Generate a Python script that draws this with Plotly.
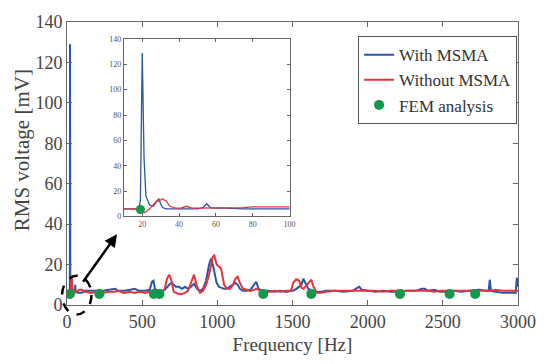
import plotly.graph_objects as go

# ---- data ----
freq_low = [0, 5, 10, 15, 18, 19, 20, 21, 22, 24, 26, 28, 29, 30, 31, 33, 35, 38, 41, 44,
            47, 50, 53, 55, 57, 60, 65, 70, 75, 80, 85, 90, 95, 100]
blue_low = [6, 6, 6, 6, 6, 12, 129, 45, 16, 9, 8, 12, 14, 10, 7, 6, 6, 6, 6, 6.5,
            6, 6, 7, 10, 7, 6.5, 6.5, 6, 6, 6, 6, 6, 6, 6]
red_low = [6, 6, 6, 6, 5, 4, 3, 3, 3.5, 6, 9, 12.5, 12, 13, 14, 12, 8, 6.5, 6.5, 8,
           6.5, 6.5, 6.5, 6.5, 6.5, 6.5, 6.5, 7, 7, 7.5, 7.5, 7.5, 7.5, 7.5]

freq_high = [120, 160, 200, 240, 280, 320, 340, 380, 420, 450, 480, 520, 550, 565, 575, 585,
             600, 630, 650, 665, 680, 695, 710, 725, 745, 765, 785, 805, 825, 845, 865, 885,
             905, 925, 945, 958, 970, 980, 995, 1010, 1025, 1045, 1065, 1085, 1105, 1120,
             1135, 1150, 1170, 1195, 1220, 1245, 1258, 1275, 1300, 1340, 1380, 1420, 1460,
             1490, 1505, 1525, 1545, 1560, 1572, 1585, 1605, 1625, 1640, 1660, 1690, 1720,
             1780, 1840, 1900, 1930, 1945, 1960, 2000, 2050, 2100, 2150, 2200, 2260, 2320,
             2360, 2380, 2400, 2445, 2480, 2520, 2580, 2620, 2680, 2740, 2790, 2805, 2812,
             2820, 2850, 2900, 2950, 2985, 2992, 3000]
blue_high = [7, 7, 7, 7, 7.5, 8, 7, 7, 7.5, 8, 7, 7, 7.5, 11.5, 12, 8,
             7, 7, 7.5, 9, 10, 11, 10, 9, 9, 8, 9, 8, 9, 10.5, 8, 7,
             8, 12, 20, 23, 20, 16, 11, 9, 8.5, 8, 8, 9, 10, 11,
             10, 8, 7, 7, 7.5, 10, 11.5, 8, 7, 7, 6.5, 7, 6.5,
             7, 7, 8, 9, 10, 13, 11, 8, 7.5, 6.5, 6.5, 6.5, 7,
             7, 6.5, 7, 8.5, 9, 7.5, 7, 6.5, 7, 6.5, 6.5, 7, 7,
             8, 8, 7, 7.5, 6.5, 6.5, 7, 6.5, 7, 7.5, 7, 7, 12.5,
             7, 6.5, 6, 6, 6, 13.5, 9]
red_high = [6.5, 6, 6.5, 6, 6.5, 6.5, 7, 6, 6.5, 6, 6.5, 6, 6.5, 6.5, 6, 6.5,
            6.5, 6.5, 8, 13, 15, 12, 6.5, 6, 5.5, 5.5, 6, 7, 11, 15, 9, 6,
            7, 10, 15, 20, 24, 24.5, 20, 19, 18, 10, 8, 8, 10, 13,
            14, 11, 8, 7.5, 7, 7.5, 8, 7.5, 7, 6.5, 7, 6.5, 7,
            7, 11, 12.7, 12, 8.5, 8, 9, 11, 12.5, 9, 6, 6, 6.5,
            7, 7, 7, 7, 7, 7, 7, 7, 6.5, 7, 7, 7, 7,
            7, 7, 7, 6.5, 7, 7, 7, 7, 7, 7, 7, 7, 7,
            7, 7.5, 7, 7, 7, 7, 7]

fem_freq = [19, 215, 578, 615, 1305, 1625, 2215, 2545, 2715]
fem_val = [5.5, 5.5, 5.5, 5.5, 5.5, 5.5, 5.5, 5.5, 5.5]

x_ticks = [0, 500, 1000, 1500, 2000, 2500, 3000]
y_ticks = [0, 20, 40, 60, 80, 100, 120, 140]
inset_x_ticks = [20, 40, 60, 80, 100]

freq_all = freq_low + freq_high
blue_all = blue_low + blue_high
red_all = red_low + red_high

BLUE = "#2d55a5"
RED = "#e4343c"
GREEN = "#14994a"
FONT = "'Liberation Serif', 'Times New Roman', 'DejaVu Serif', serif"

fig = go.Figure()
# main
fig.add_trace(go.Scatter(x=freq_all, y=blue_all, mode="lines", name="With MSMA",
                         line=dict(color=BLUE, width=2)))
fig.add_trace(go.Scatter(x=freq_all, y=red_all, mode="lines", name="Without MSMA",
                         line=dict(color=RED, width=2)))
fig.add_trace(go.Scatter(x=fem_freq, y=fem_val, mode="markers", name="FEM analysis",
                         marker=dict(color=GREEN, size=10)))
# inset
fig.add_trace(go.Scatter(x=freq_all, y=blue_all, mode="lines", showlegend=False,
                         line=dict(color=BLUE, width=1.3), xaxis="x2", yaxis="y2"))
fig.add_trace(go.Scatter(x=freq_all, y=red_all, mode="lines", showlegend=False,
                         line=dict(color=RED, width=1.3), xaxis="x2", yaxis="y2"))
fig.add_trace(go.Scatter(x=fem_freq, y=fem_val, mode="markers", showlegend=False,
                         marker=dict(color=GREEN, size=9), xaxis="x2", yaxis="y2",
                         cliponaxis=True))

axis_common = dict(showline=True, linecolor="#666", linewidth=1, mirror="ticks",
                   ticks="inside", tickcolor="#666", showgrid=False, zeroline=False)

fig.update_layout(
    width=548, height=364,
    margin=dict(l=67, r=21, t=18, b=46),
    paper_bgcolor="white", plot_bgcolor="white",
    font=dict(family=FONT, color="#444"),
    xaxis=dict(range=[0, 3000], tickvals=x_ticks, ticklen=5,
               tickfont=dict(family=FONT, size=18, color="#444"),
               title=dict(text="Frequency [Hz]", font=dict(family=FONT, size=19, color="#444"),
                          standoff=7),
               **axis_common),
    yaxis=dict(range=[0, 140], tickvals=y_ticks, ticklen=5,
               tickfont=dict(family=FONT, size=18, color="#444"),
               **axis_common),
    xaxis2=dict(domain=[0.126, 0.4935], anchor="y2", range=[10, 100], tickvals=inset_x_ticks,
                ticklen=3, tickfont=dict(family=FONT, size=8, color="#555"), **axis_common),
    yaxis2=dict(domain=[0.313, 0.94], anchor="x2", range=[0, 140], tickvals=y_ticks,
                ticklen=3, tickfont=dict(family=FONT, size=8, color="#555"), **axis_common),
    legend=dict(x=0.998, y=0.95, xanchor="right", yanchor="top",
                bgcolor="white", bordercolor="#555", borderwidth=1,
                font=dict(family=FONT, size=17, color="#333"),
                tracegroupgap=0, itemwidth=30),
    showlegend=True,
    shapes=[dict(type="circle", xref="paper", yref="paper",
                 x0=-0.0109, x1=0.0543, y0=-0.0333, y1=0.1033,
                 line=dict(color="black", width=2.5, dash="dash"))],
    annotations=[
        dict(xref="paper", yref="paper", x=0.1109, y=0.25, ax=-35, ay=49,
             showarrow=True, arrowhead=2, arrowsize=1, arrowwidth=2.5,
             arrowcolor="black", text=""),
        dict(xref="paper", yref="paper", x=-0.0997, y=0.547, text="RMS voltage [mV]",
             textangle=-90, showarrow=False, xanchor="center", yanchor="middle",
             font=dict(family=FONT, size=21, color="#444")),
    ],
)

fig.write_html("out.html")
